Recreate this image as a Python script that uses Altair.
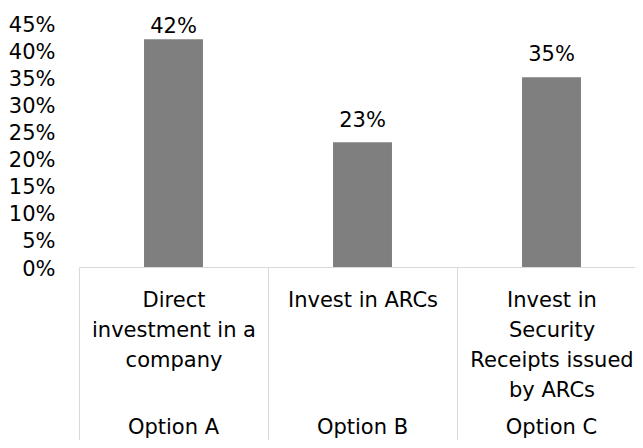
import altair as alt
import pandas as pd

# ---- data -------------------------------------------------------------
category_lines = [
    "Direct|investment in a|company",
    "Invest in ARCs",
    "Invest in|Security|Receipts issued|by ARCs",
]
options = ["Option A", "Option B", "Option C"]
values = [0.42, 0.23, 0.35]
y_ticks = [0, 0.05, 0.10, 0.15, 0.20, 0.25, 0.30, 0.35, 0.40, 0.45]

df = pd.DataFrame({"category": category_lines, "option": options, "value": values})

FONT = "DejaVu Sans"
FS = 21
TXT = "#000000"
LINE = "#d9d9d9"

x_enc = alt.X(
    "category:N",
    sort=category_lines,
    title=None,
    scale=alt.Scale(range=[0, 567], paddingInner=0, paddingOuter=0),
    axis=alt.Axis(
        labelExpr="split(datum.label, '|')",
        labelAngle=0,
        tickBand="extent",
        tickSize=181,
        tickColor=LINE,
        tickWidth=1,
        domainColor=LINE,
        domainWidth=1,
        labelPadding=-141.3,
        labelLineHeight=30,
        labelBaseline="alphabetic",
        labelFont=FONT,
        labelFontSize=FS,
        labelColor=TXT,
        labelLimit=0,
        labelOverlap=False,
    ),
)

y_scale = alt.Scale(domain=[0, 0.45], nice=False, zero=True)
y_axis = alt.Axis(
    values=y_ticks,
    format=".0%",
    grid=False,
    domain=False,
    ticks=False,
    labelPadding=24,
    labelOffset=2,
    labelOverlap=False,
    labelFont=FONT,
    labelFontSize=FS,
    labelColor=TXT,
)

base = alt.Chart(df)

bars = base.mark_bar(color="#7f7f7f", width={"band": 0.312}).encode(
    x=x_enc,
    y=alt.Y("value:Q", title=None, scale=y_scale, axis=y_axis),
)

labels = base.transform_calculate(
    label_y="min(datum.value + 0.029, 0.432)"
).mark_text(baseline="alphabetic", font=FONT, fontSize=FS, color=TXT).encode(
    x=x_enc,
    y=alt.Y("label_y:Q", title=None, scale=y_scale, axis=y_axis),
    text=alt.Text("value:Q", format=".0%"),
)

opt_labels = base.mark_text(baseline="alphabetic", font=FONT, fontSize=FS, color=TXT).encode(
    x=x_enc,
    y=alt.value(411),
    text="option:N",
)

chart = (
    alt.layer(bars, labels, opt_labels)
    .properties(
        width=556,
        height=244,
        autosize=alt.AutoSizeParams(type="none"),
        padding={"left": 71, "top": 15, "right": 0, "bottom": 173},
        background="white",
    )
    .configure_view(stroke=None)
)

chart.save("out.html", embed_options={"renderer": "svg", "actions": False})
